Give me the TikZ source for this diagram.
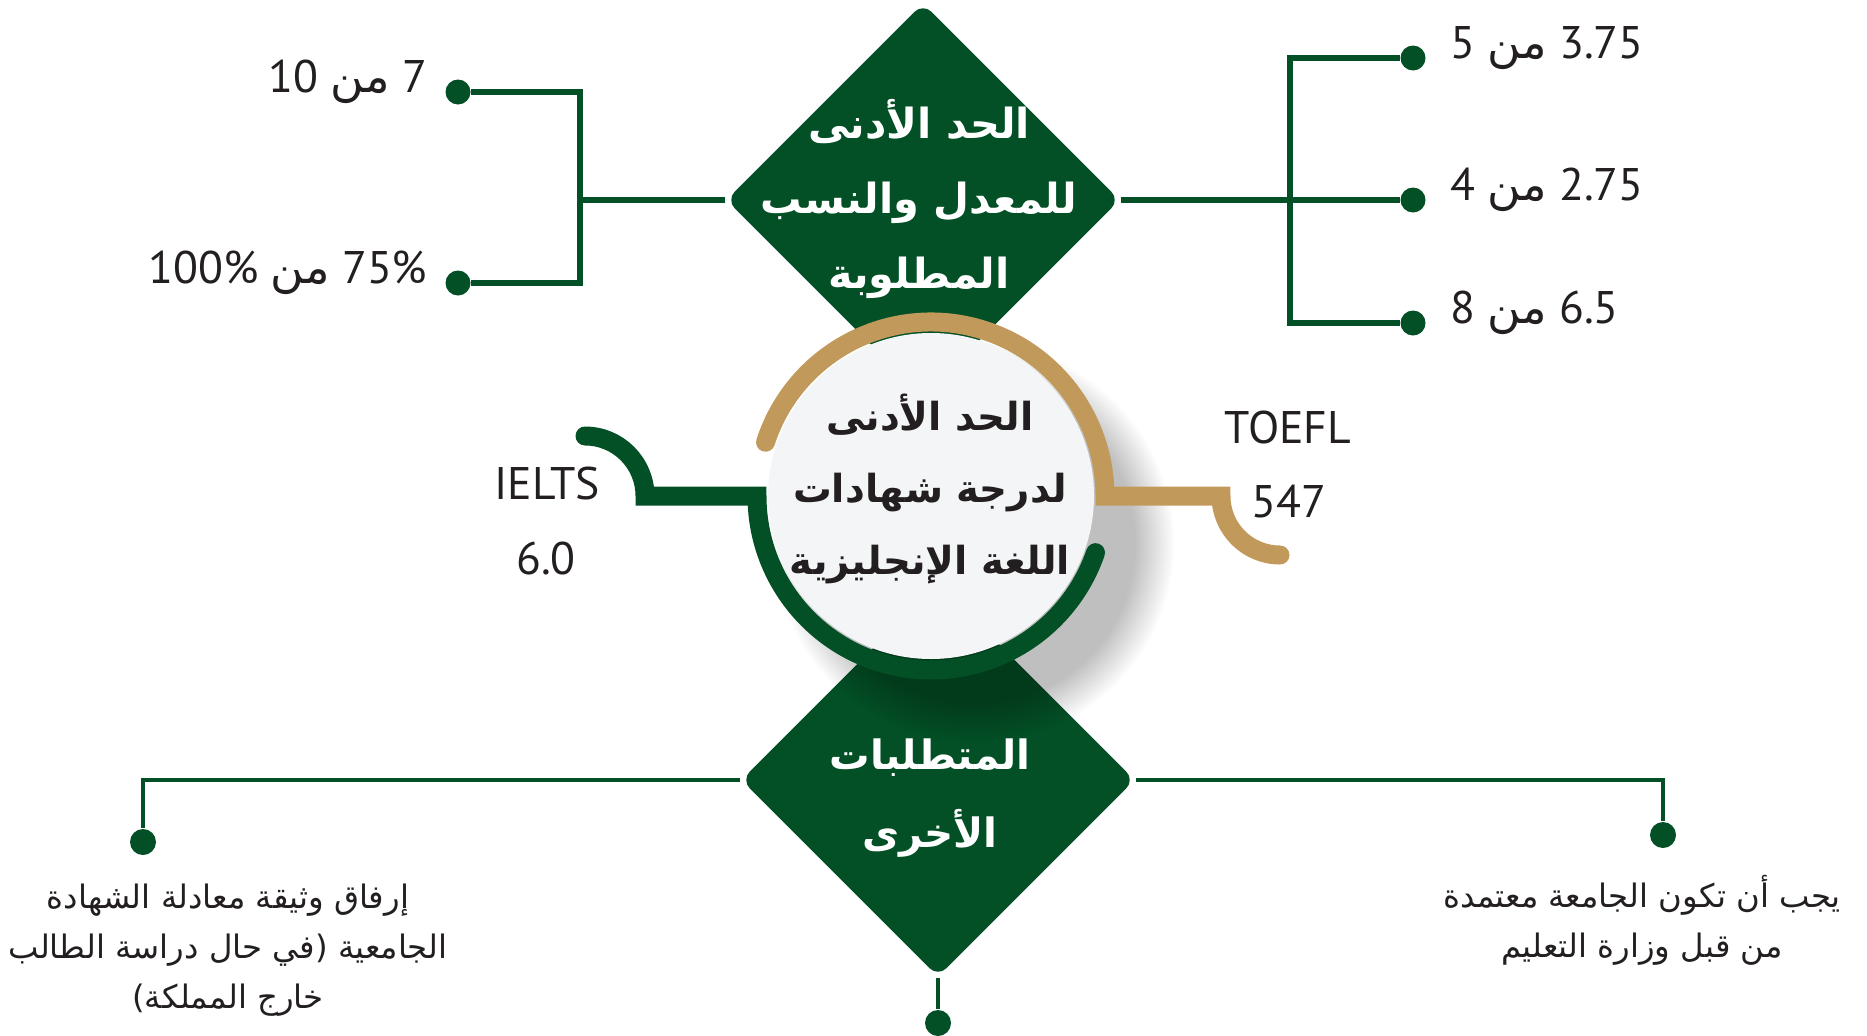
\documentclass[tikz,border=0pt]{standalone}
\usepackage{fontspec}
\setmainfont{PT Sans}
\newfontfamily\arabicfont[Script=Arabic]{DejaVu Sans}
\TeXXeTstate=1
\usetikzlibrary{shapes.geometric,fadings}
\definecolor{dgreen}{RGB}{3,80,38}
\definecolor{gold}{RGB}{193,154,91}
\definecolor{paper}{RGB}{243,245,246}
\definecolor{ink}{RGB}{35,31,32}

\begin{document}
\begin{tikzpicture}[
  box/.style={diamond, aspect=1, fill=dgreen, rounded corners=0.12cm, minimum size=3.94cm, inner sep=0pt},
  dot/.style={circle, fill=dgreen, minimum size=0.25cm, inner sep=0pt},
  link/.style={dgreen, line width=0.06cm},
  thinlink/.style={dgreen, line width=0.045cm},
  ring/.style={line width=0.19cm, line cap=round},
  num/.style={font=\fontsize{13}{15}\selectfont, text=ink, inner sep=0pt},
  head/.style={font=\arabicfont\bfseries\fontsize{11.8}{21.3}\selectfont, text=white, align=center},
  note/.style={font=\arabicfont\fontsize{9.2}{14.2}\selectfont, text=ink, align=center}
]
\useasboundingbox (0,0) rectangle (18.67,10.35);

%diamonds
\node[box] (rate) at (9.23,8.35) {};
\node[box] (other) at (9.38,2.55) {};
\node[head] (ratetext) at (9.19,8.36) {\beginR الحد الأدنى\endR\\ \beginR للمعدل والنسب\endR\\ \beginR المطلوبة\endR};
\node[head, font=\arabicfont\bfseries\fontsize{11.5}{22}\selectfont] (othertext) at (9.30,2.37) {\beginR المتطلبات\endR\\ \beginR الأخرى\endR};

%shadow and circle
\fill[black, opacity=0.25, path fading=circle with fuzzy edge 20 percent] (9.74,4.92) circle (2.0);
\node[circle, fill=paper, minimum size=3.26cm, inner sep=0pt] (core) at (9.31,5.39) {};
\node[head, text=ink, font=\arabicfont\bfseries\fontsize{11}{20.5}\selectfont] (coretext) at (9.30,5.46)
  {\beginR الحد الأدنى\endR\\ \beginR لدرجة شهادات\endR\\ \beginR اللغة الإنجليزية\endR};

%rings
\coordinate (ieltsend) at (5.85,5.99);
\coordinate (toeflbend) at (12.21,5.39);
\draw[ring, dgreen] (ieltsend) arc[start angle=90, end angle=0, radius=0.60]
  -- ([shift={(180:1.74)}]core.center) arc[start angle=180, end angle=341, radius=1.74];
\draw[ring, gold] ([shift={(162:1.74)}]core.center) arc[start angle=162, end angle=0, radius=1.74]
  -- (toeflbend) arc[start angle=180, end angle=270, radius=0.59];
\node[num] (ielts) at (5.47,5.51) {IELTS};
\node[num] (ieltsscore) at (5.46,4.76) {6.0};
\node[num] (toefl) at (12.88,6.07) {TOEFL};
\node[num] (toeflscore) at (12.89,5.33) {547};

%top left
\coordinate (lbar) at (5.80,8.35);
\node[dot] (d1) at (4.58,9.43) {};
\node[dot] (d2) at (4.58,7.52) {};
\draw[link] (rate.west) -- (lbar);
\draw[link] (d1) -| (lbar) |- (d2);
\node[num, anchor=base east] (l1) at ([xshift=-0.30cm]d1.center) {\beginR\beginL 7\endL{} {\arabicfont من} \beginL 10\endL\endR};
\node[num, anchor=base east] (l2) at ([xshift=-0.30cm]d2.center) {\beginR\beginL 75\%\endL{} {\arabicfont من} \beginL 100\%\endL\endR};

%top right
\coordinate (rbar) at (12.90,8.35);
\node[dot] (d3) at (14.13,9.77) {};
\node[dot] (d4) at (14.13,8.35) {};
\node[dot] (d5) at (14.13,7.12) {};
\draw[link] (rate.east) -- (d4);
\draw[link] (d3) -| (rbar) |- (d5);
\node[num, anchor=base west] (r1) at ([xshift=0.37cm]d3.center) {\beginR\beginL 3.75\endL{} {\arabicfont من} \beginL 5\endL\endR};
\node[num, anchor=base west] (r2) at ([xshift=0.37cm]d4.center) {\beginR\beginL 2.75\endL{} {\arabicfont من} \beginL 4\endL\endR};
\node[num, anchor=base west] (r3) at ([xshift=0.37cm]d5.center) {\beginR\beginL 6.5\endL{} {\arabicfont من} \beginL 8\endL\endR};

%bottom
\node[dot, minimum size=0.26cm] (d6) at (1.43,1.93) {};
\node[dot, minimum size=0.26cm] (d7) at (16.63,2.00) {};
\node[dot, minimum size=0.26cm] (d8) at (9.38,0.12) {};
\draw[thinlink] (other.west) -| (d6);
\draw[thinlink] (other.east) -| (d7);
\draw[thinlink] (other.south) -- (d8);
\node[note] (req1) at (2.28,0.85) {\beginR إرفاق وثيقة معادلة الشهادة\endR\\ \beginR الجامعية (في حال دراسة الطالب\endR\\ \beginR خارج المملكة)\endR};
\node[note] (req2) at (16.42,1.15) {\beginR يجب أن تكون الجامعة معتمدة\endR\\ \beginR من قبل وزارة التعليم\endR};
\end{tikzpicture}
\end{document}
